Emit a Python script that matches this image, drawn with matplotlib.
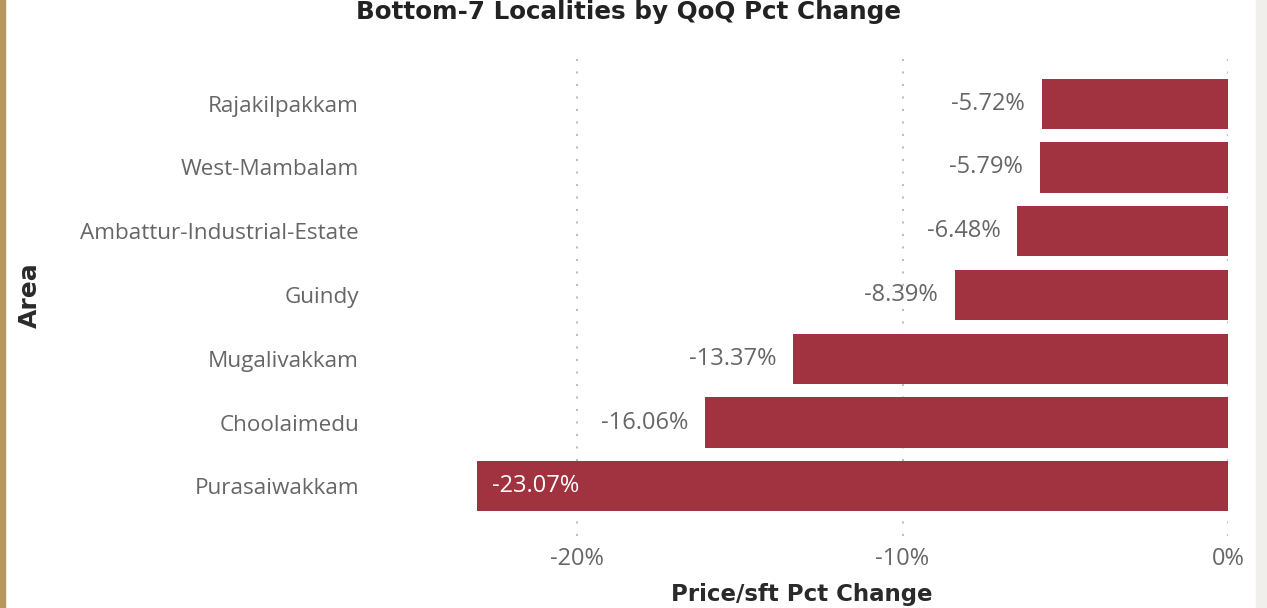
import matplotlib
matplotlib.use("Agg")
import matplotlib.pyplot as plt
from matplotlib.patches import Rectangle

plt.rcParams["font.family"] = ["Open Sans", "DejaVu Sans"]

areas = ["Rajakilpakkam", "West-Mambalam", "Ambattur-Industrial-Estate", "Guindy",
         "Mugalivakkam", "Choolaimedu", "Purasaiwakkam"]
pct_change = [-5.72, -5.79, -6.48, -8.39, -13.37, -16.06, -23.07]
xticks = [-20, -10, 0]
xtick_labels = ["-20%", "-10%", "0%"]

W, H = 1267, 608
fig = plt.figure(figsize=(W / 100, H / 100), dpi=100)
fig.patch.set_facecolor("white")

# decorative strips
fig.add_artist(Rectangle((0, 0), 5 / W, 1, transform=fig.transFigure, color="#B8955E", zorder=0))
fig.add_artist(Rectangle((1256 / W, 0), 11 / W, 1, transform=fig.transFigure, color="#F0EFEB", zorder=0))

left_px, right_px = 470, 1228
top_px, bot_px = 54, 536
ax = fig.add_axes([left_px / W, 1 - bot_px / H, (right_px - left_px) / W, (bot_px - top_px) / H])

bar_color = "#A0333F"
grey = "#666666"
y = list(range(len(areas)))
ax.barh(y, pct_change, height=0.79, color=bar_color, zorder=2)

xmin = (left_px - right_px) / 32.55
ax.set_xlim(xmin, 0)
ax.set_ylim(6.5 + 0.28, -0.5 - 0.28)

for s in ax.spines.values():
    s.set_visible(False)

ax.set_xticks(xticks)
ax.set_xticklabels(xtick_labels)
ax.set_yticks(y)
ax.set_yticklabels(areas)
ax.tick_params(axis="y", length=0, colors=grey, labelsize=16.2, pad=80)
ax.tick_params(axis="x", length=0, colors=grey, labelsize=17, pad=8)

ax.xaxis.grid(True, linestyle=(0, (1, 5)), color="#BFBFBF", linewidth=1.5, zorder=0)
ax.set_axisbelow(True)

for yi, v in zip(y, pct_change):
    if v < -20:
        ax.annotate(f"{v:.2f}%", xy=(v, yi), xytext=(11, 0), textcoords="offset points",
                    ha="left", va="center", color="white", fontsize=17)
    else:
        ax.annotate(f"{v:.2f}%", xy=(v, yi), xytext=(-12, 0), textcoords="offset points",
                    ha="right", va="center", color=grey, fontsize=17)

fig.text(628 / W, 1 - 12 / H, "Bottom-7 Localities by QoQ Pct Change", ha="center", va="center",
         fontsize=17.7, fontweight="bold", color="#222222", family="DejaVu Sans")
fig.text(802 / W, 1 - 594 / H, "Price/sft Pct Change", ha="center", va="center",
         fontsize=16.5, fontweight="bold", color="#2a2a2a", family="DejaVu Sans")
fig.text(30 / W, 1 - 295 / H, "Area", ha="center", va="center", rotation=90,
         fontsize=18, fontweight="bold", color="#2a2a2a", family="DejaVu Sans")

fig.savefig("out.png", dpi=100, facecolor="white")
